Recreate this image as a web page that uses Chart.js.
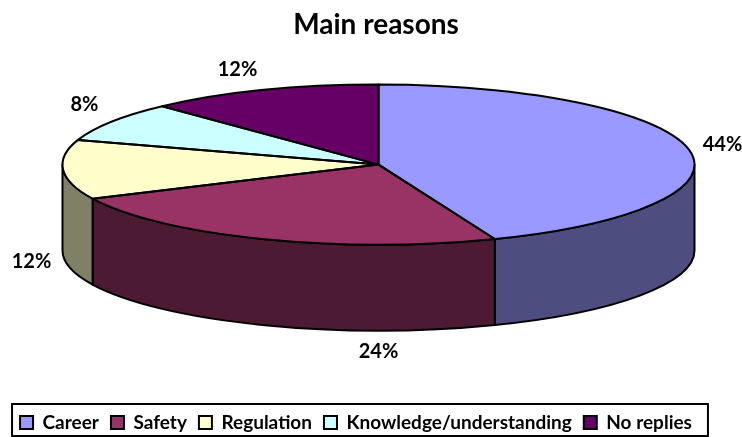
<!DOCTYPE html>
<html>
<head>
<meta charset="utf-8">
<script src="https://cdn.jsdelivr.net/npm/chart.js@4.4.1/dist/chart.umd.min.js"></script>
<style>
  html, body { margin: 0; padding: 0; background: #fff; }
</style>
</head>
<body>
<canvas id="pieChart" width="742" height="437"></canvas>
<script>
// chart data
const categories = ['Career', 'Safety', 'Regulation', 'Knowledge/understanding', 'No replies'];
const shares = [44, 24, 12, 8, 12];
const sliceColors = ['#9999FF', '#993366', '#FFFFCC', '#CCFFFF', '#660066'];

const FONT = 'Lato, "Liberation Sans", sans-serif';
const RX = 316, RY = 80, DEPTH = 86; // ellipse + side wall thickness

// half brightness for the side walls
function darken(hex) {
  const n = parseInt(hex.slice(1), 16);
  const r = Math.round(((n >> 16) & 255) * 0.5);
  const g = Math.round(((n >> 8) & 255) * 0.5);
  const b = Math.round((n & 255) * 0.5);
  return `rgb(${r},${g},${b})`;
}

function pieCenter(chart) {
  const arcs = chart.getDatasetMeta(0).data;
  return { arcs, cx: arcs[0].x + 22.5, cy: chart.chartArea.top + 113 };
}

// label spots relative to the pie centre (Excel-style outside labels)
const labelOffsets = [[344, -20], [0, 187], [-347, 97], [-294, -60], [-141, -95]];

const pie3d = {
  id: 'pie3d',
  afterLayout(chart) {
    // title in the reference sits right of the legend centre
    chart.titleBlock.left += 40;
  },
  beforeDatasetsDraw(chart) {
    const ctx = chart.ctx;
    const { arcs, cx, cy } = pieCenter(chart);
    ctx.save();
    ctx.lineWidth = 2;
    ctx.strokeStyle = '#000';
    ctx.lineJoin = 'round';
    arcs.forEach((arc, i) => {
      const s = Math.max(arc.startAngle, 0);
      const e = Math.min(arc.endAngle, Math.PI);
      if (e <= s) return;
      ctx.beginPath();
      ctx.ellipse(cx, cy, RX, RY, 0, s, e);
      ctx.ellipse(cx, cy + DEPTH, RX, RY, 0, e, s, true);
      ctx.closePath();
      ctx.fillStyle = darken(sliceColors[i]);
      ctx.fill();
      ctx.stroke();
    });
    ctx.restore();
    // squash the library's pie into the top ellipse
    ctx.save();
    ctx.translate(cx, cy);
    ctx.scale(1, RY / RX);
    ctx.translate(-arcs[0].x, -arcs[0].y);
  },
  afterDatasetsDraw(chart) {
    const ctx = chart.ctx;
    ctx.restore();
    const { arcs, cx, cy } = pieCenter(chart);
    ctx.save();
    ctx.lineWidth = 2;
    ctx.strokeStyle = '#000';
    ctx.lineJoin = 'round';
    arcs.forEach(arc => {
      ctx.beginPath();
      ctx.moveTo(cx, cy);
      ctx.ellipse(cx, cy, RX, RY, 0, arc.startAngle, arc.endAngle);
      ctx.closePath();
      ctx.stroke();
    });
    const total = shares.reduce((a, b) => a + b, 0);
    ctx.fillStyle = '#000';
    ctx.font = 'bold 20px ' + FONT;
    ctx.textAlign = 'center';
    ctx.textBaseline = 'middle';
    shares.forEach((v, i) => {
      const [dx, dy] = labelOffsets[i];
      ctx.fillText(Math.round(v / total * 100) + '%', cx + dx, cy + dy);
    });
    ctx.restore();
  },
  afterDraw(chart) {
    const ctx = chart.ctx;
    const hb = chart.legend.legendHitBoxes;
    if (!hb.length) return;
    const last = hb[hb.length - 1];
    const x0 = hb[0].left - 8, x1 = last.left + last.width + 16;
    const y0 = hb[0].top - 9, y1 = chart.height - 1;
    ctx.save();
    ctx.lineWidth = 2;
    ctx.strokeStyle = '#000';
    ctx.strokeRect(x0, y0, x1 - x0, y1 - y0);
    ctx.restore();
  }
};

Chart.defaults.font.family = FONT;
Chart.defaults.color = '#000';

const ctx = document.getElementById('pieChart').getContext('2d');
const pieChart = new Chart(ctx, {
  type: 'pie',
  data: {
    labels: categories,
    datasets: [{
      data: shares,
      backgroundColor: sliceColors,
      borderWidth: 0,
      clip: false
    }]
  },
  options: {
    responsive: false,
    animation: false,
    events: [],
    radius: RX,
    layout: { padding: { left: 0, right: 30, top: 0, bottom: -5 } },
    plugins: {
      title: {
        display: true,
        text: 'Main reasons',
        font: { size: 28, weight: 'bold' },
        color: '#000',
        padding: { top: 8, bottom: 10 }
      },
      legend: {
        position: 'bottom',
        labels: {
          boxWidth: 13,
          boxHeight: 13,
          padding: 12,
          font: { size: 19, weight: 'bold' },
          color: '#000',
          generateLabels(chart) {
            const base = Chart.overrides.doughnut.plugins.legend.labels.generateLabels(chart);
            return base.map(l => Object.assign(l, { strokeStyle: '#000', lineWidth: 2 }));
          }
        }
      },
      tooltip: { enabled: false }
    }
  },
  plugins: [pie3d]
});
</script>
</body>
</html>
